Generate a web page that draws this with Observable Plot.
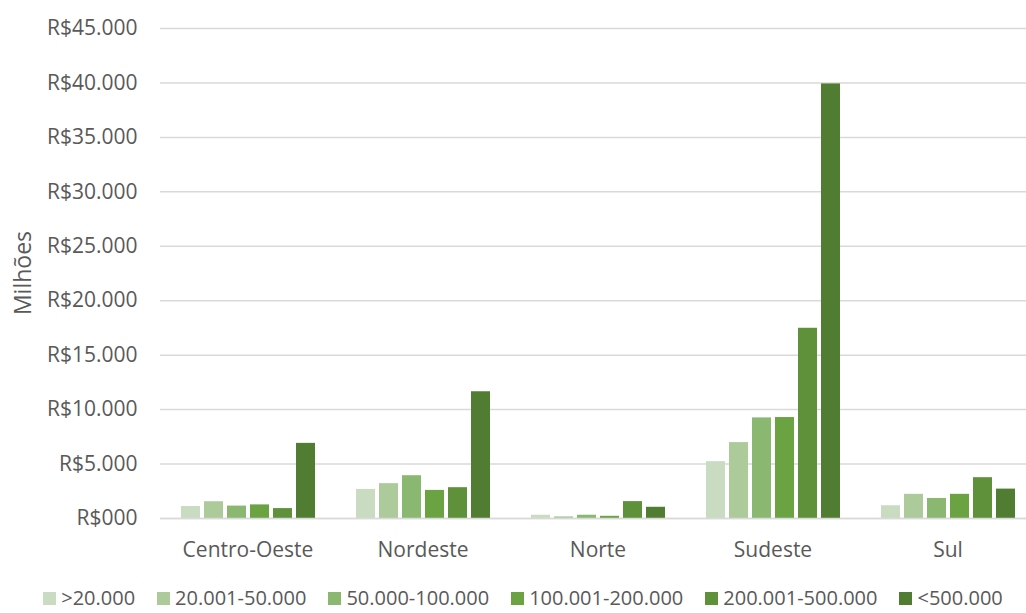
<!DOCTYPE html>
<html>
<head>
<meta charset="utf-8">
<script src="https://cdn.jsdelivr.net/npm/d3@7"></script>
<script src="https://cdn.jsdelivr.net/npm/@observablehq/plot@0.6"></script>
<style>
  html, body { margin: 0; padding: 0; background: #fff; overflow: hidden; }
  #wrap { position: relative; width: 1026px; height: 613px; overflow: hidden; font-family: "Open Sans", "Noto Sans", sans-serif; color: #595959; }
  #chart { position: absolute; left: 0; top: 0; }
  #ylabel { position: absolute; left: 22px; top: 273px; transform: translate(-50%, -50%) rotate(-90deg); font-size: 23px; line-height: 1; white-space: nowrap; }
  #legend { position: absolute; left: 10px; width: 1026px; top: 587px; height: 22px; line-height: 22px; display: flex; justify-content: center; align-items: center; font-size: 20px; white-space: nowrap; }
  .item { display: flex; align-items: center; margin: 0 11px; }
  .sw { width: 13px; height: 13px; margin-right: 5px; }
</style>
</head>
<body>
<div id="wrap">
  <div id="chart"></div>
  <div id="ylabel">Milhões</div>
  <div id="legend"></div>
</div>
<script>
const regions = ["Centro-Oeste", "Nordeste", "Norte", "Sudeste", "Sul"];
const brackets = [">20.000", "20.001-50.000", "50.000-100.000", "100.001-200.000", "200.001-500.000", "<500.000"];
const colors = ["#c9dbc0", "#acca9a", "#8bb870", "#6ba242", "#5e913a", "#507d32"];
// values in millions of R$, one array per population bracket, ordered as regions
const gt20k      = [1100, 2670, 300, 5220, 1170];
const s20_50k    = [1540, 3200, 150, 6970, 2220];
const s50_100k   = [1140, 3930, 300, 9240, 1840];
const s100_200k  = [1250, 2580, 200, 9270, 2220];
const s200_500k  = [910, 2830, 1550, 17470, 3750];
const lt500k     = [6900, 11640, 1030, 39910, 2700];
const yTicks = [0, 5000, 10000, 15000, 20000, 25000, 30000, 35000, 40000, 45000];
const yTickLabels = ["R$000", "R$5.000", "R$10.000", "R$15.000", "R$20.000", "R$25.000", "R$30.000", "R$35.000", "R$40.000", "R$45.000"];

const seriesList = [gt20k, s20_50k, s50_100k, s100_200k, s200_500k, lt500k];
const data = [];
regions.forEach((r, i) => {
  brackets.forEach((b, j) => {
    data.push({region: r, bracket: b, value: seriesList[j][i]});
  });
});

const chart = Plot.plot({
  width: 1036,
  height: 570,
  marginLeft: 159,
  marginRight: 0,
  marginTop: 28,
  marginBottom: 52,
  style: {fontSize: "21px", fontFamily: "'Open Sans', 'Noto Sans', sans-serif", color: "#595959", background: "white", maxWidth: "none", overflow: "visible"},
  fx: {domain: regions, padding: 0, axis: "bottom", tickSize: 0, tickPadding: 24, label: null},
  x: {domain: brackets, paddingInner: 0.19, paddingOuter: 0.835, axis: null},
  y: {domain: [0, 45000], ticks: yTicks, tickFormat: d => yTickLabels[yTicks.indexOf(d)], tickSize: 0, tickPadding: 23, label: null},
  color: {domain: brackets, range: colors},
  marks: [
    Plot.ruleY(yTicks, {stroke: "#d9d9d9", strokeWidth: 1.5}),
    Plot.barY(data, {fx: "region", x: "bracket", y: "value", fill: "bracket"}),
    Plot.ruleY([0], {stroke: "#d9d9d9", strokeWidth: 1.5})
  ]
});
document.getElementById("chart").appendChild(chart);

const legend = document.getElementById("legend");
brackets.forEach((b, j) => {
  const item = document.createElement("div");
  item.className = "item";
  const sw = document.createElement("div");
  sw.className = "sw";
  sw.style.background = colors[j];
  const t = document.createElement("span");
  t.textContent = b;
  item.appendChild(sw);
  item.appendChild(t);
  legend.appendChild(item);
});
</script>
</body>
</html>
